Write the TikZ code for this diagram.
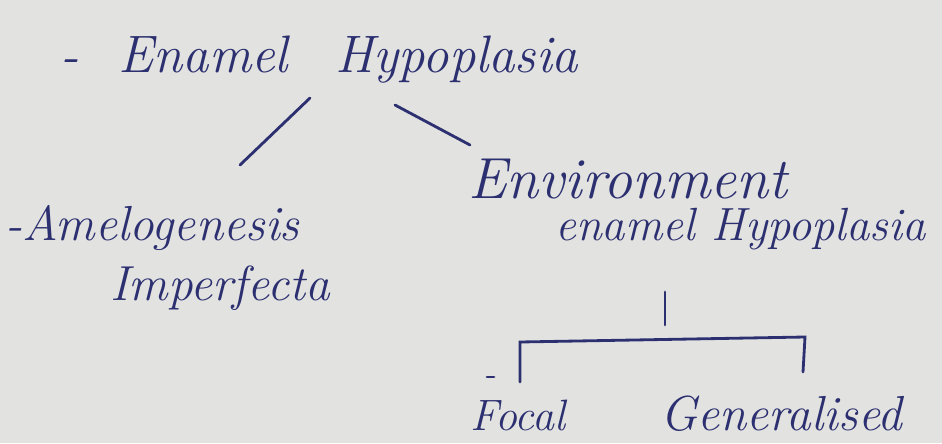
\documentclass[tikz,border=0pt]{standalone}
\usepackage{fontspec}
\definecolor{ink}{RGB}{44,48,112}
\definecolor{paper}{RGB}{226,226,224}
\tikzset{note/.style={text=ink,font=\fontsize{28}{32}\selectfont\itshape,inner sep=0pt,anchor=base west}}
\tikzset{txtsize/.style={font=\fontsize{#1}{#1}\selectfont\itshape}}
\tikzset{stroke/.style={draw=ink,line width=1.6pt,line cap=round}}

\begin{document}
\begin{tikzpicture}[x=0.02cm,y=-0.02cm]
  \fill[paper] (0,0) rectangle (942,443);
  \useasboundingbox (0,0) rectangle (942,443);
  % headings
  \node[note,txtsize=30] (top) at (60,72) {-\hspace{0.8cm}Enamel\hspace{0.95cm}Hypoplasia};
  \node[note] (amelo) at (5,240) {-Amelogenesis};
  \node[note] (imperf) at (110,300) {Imperfecta};
  \node[note,txtsize=33] (env) at (468,198) {Environment};
  \node[note,txtsize=26.5] (envb) at (555,240) {enamel Hypoplasia};
  \node[note,txtsize=25] (focal) at (470,430) {Focal};
  \node[note] (gen) at (660,430) {Generalised};
  % branches
  \coordinate (l1) at (310,98);
  \coordinate (l2) at (240,165);
  \coordinate (r1) at (395,105);
  \coordinate (r2) at (470,145);
  \draw[stroke] (l1) -- (l2);
  \draw[stroke] (r1) -- (r2);
  \coordinate (v1) at (665,292);
  \coordinate (v2) at (665,325);
  \draw[stroke] (v1) -- (v2);
  \coordinate (bl) at (520,342);
  \coordinate (br) at (805,337);
  \draw[stroke] (520,382) -- (bl) -- (br) -- (803,372);
  \draw[stroke] (487,377) -- (494,377);
\end{tikzpicture}
\end{document}
